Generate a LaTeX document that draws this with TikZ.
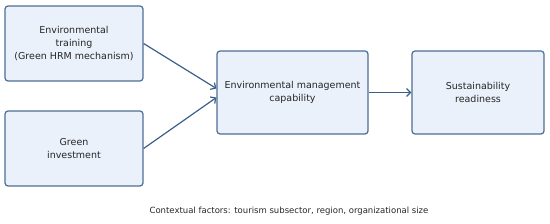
\documentclass[tikz,border=0pt]{standalone}
\usepackage{fontspec}
\setmainfont{DejaVu Sans}
\usetikzlibrary{positioning, arrows.meta}

\definecolor{boxfill}{HTML}{EAF1FA}
\definecolor{boxline}{HTML}{4D6F96}
\definecolor{arrowline}{HTML}{3C5F8A}

\begin{document}
\begin{tikzpicture}[
    x=1pt, y=-1pt,
    factor/.style={
        rectangle,
        draw=boxline,
        line width=1.2pt,
        fill=boxfill,
        rounded corners=3pt,
        minimum width=138pt,
        minimum height=75pt,
        font=\fontsize{9.5}{13}\selectfont,
        text=black!85,
        align=center,
        inner sep=2pt
    },
    outcome/.style={
        factor,
        minimum height=83pt
    },
    arrow/.style={
        -{Straight Barb[length=4pt, width=8pt]},
        line width=1.2pt,
        color=arrowline
    }
]

\useasboundingbox (0,0) rectangle (550,224);

\node[factor] (train) at (74, 43.5) {Environmental\\training\\(Green HRM mechanism)};
\node[factor] (invest) at (74, 148.5) {Green\\investment};

\node[outcome, minimum width=151pt] (emc) at (292.5, 92.5) {Environmental management\\capability};
\node[outcome, minimum width=132pt] (ready) at (478, 92.5) {Sustainability\\readiness};

\draw[arrow] (train.east) -- ([yshift=4pt]emc.west);
\draw[arrow] (invest.east) -- ([yshift=-5pt]emc.west);
\draw[arrow] (emc.east) -- (ready.west);

\node[font=\fontsize{8.5}{10}\selectfont, text=black!85] (context) at (289, 211) {Contextual factors: tourism subsector, region, organizational size};

\end{tikzpicture}
\end{document}
